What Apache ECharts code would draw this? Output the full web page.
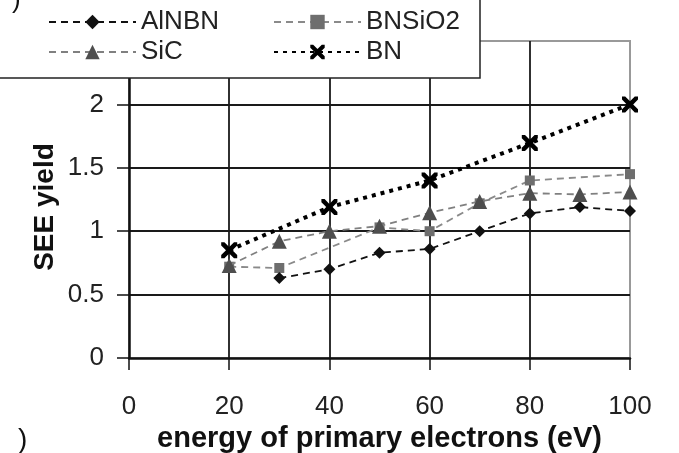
<!DOCTYPE html>
<html>
<head>
<meta charset="utf-8">
<script src="https://cdn.jsdelivr.net/npm/echarts@6/dist/echarts.min.js"></script>
<style>
html,body{margin:0;padding:0;background:#fff;}
#chart{width:679px;height:453px;}
</style>
</head>
<body>
<div id="chart"></div>
<script>
// Data
const xTicks = [0, 20, 40, 60, 80, 100];
const yTicks = [0, 0.5, 1, 1.5, 2, 2.5];

const alnbnX = [30, 40, 50, 60, 70, 80, 90, 100];
const alnbnY = [0.63, 0.70, 0.83, 0.86, 1.00, 1.14, 1.19, 1.16];

const bnsio2X = [20, 30, 50, 60, 70, 80, 100];
const bnsio2Y = [0.72, 0.71, 1.03, 1.00, 1.22, 1.40, 1.45];

const sicX = [20, 30, 40, 50, 60, 70, 80, 90, 100];
const sicY = [0.73, 0.92, 1.00, 1.04, 1.145, 1.235, 1.30, 1.29, 1.31];

const bnX = [20, 40, 60, 80, 100];
const bnY = [0.85, 1.19, 1.40, 1.695, 2.00];

const names = ['AlNBN', 'BNSiO2', 'SiC', 'BN'];
const xTitle = 'energy of primary electrons (eV)';
const yTitle = 'SEE yield';

function pairs(xs, ys) { return xs.map((x, i) => [x, ys[i]]); }

const FONT = '"Liberation Sans", Arial, sans-serif';
const xMark = 'path://M0,0 L4,0 L10,6 L16,0 L20,0 L20,4 L14,10 L20,16 L20,20 L16,20 L10,14 L4,20 L0,20 L0,16 L6,10 L0,4 Z';

const chart = echarts.init(document.getElementById('chart'), null, {renderer: 'canvas'});
chart.setOption({
  backgroundColor: '#fff',
  animation: false,
  grid: {left: 129, right: 49, top: 41, bottom: 95, outerBoundsMode: 'none', containLabel: false,
         show: true, borderColor: '#999', borderWidth: 2, backgroundColor: 'transparent'},
  xAxis: {
    type: 'value', min: xTicks[0], max: xTicks[xTicks.length - 1], interval: 20,
    name: xTitle, nameLocation: 'middle', nameGap: 62,
    nameTextStyle: {fontFamily: FONT, fontSize: 29, fontWeight: 'bold', color: '#111'},
    axisLine: {show: true, onZero: false, lineStyle: {color: '#111', width: 2.5}},
    axisTick: {show: true, length: 12, lineStyle: {color: '#111', width: 1.5}},
    axisLabel: {fontFamily: FONT, fontSize: 26, color: '#222', margin: 36, showMaxLabel: true},
    splitLine: {show: true, showMinLine: false, showMaxLine: false, lineStyle: {color: '#1a1a1a', width: 1.8}}
  },
  yAxis: {
    type: 'value', min: yTicks[0], max: yTicks[yTicks.length - 1], interval: 0.5,
    axisLine: {show: true, onZero: false, lineStyle: {color: '#111', width: 2.5}},
    axisTick: {show: true, length: 12, lineStyle: {color: '#111', width: 1.5}},
    axisLabel: {fontFamily: FONT, fontSize: 26, color: '#222', margin: 25},
    splitLine: {show: true, showMinLine: false, showMaxLine: false, lineStyle: {color: '#1a1a1a', width: 1.8}}
  },
  graphic: [
    {type: 'text', z: 5, x: 45, y: 207, rotation: Math.PI / 2,
     style: {text: yTitle, font: 'bold 28px ' + FONT, fill: '#111', align: 'center', verticalAlign: 'middle'}},
    {type: 'rect', z: 10, shape: {x: -5, y: -5, width: 485, height: 83}, style: {fill: '#fff', stroke: '#222', lineWidth: 1.5}},
    {type: 'text', z: 11, left: 12, top: -12, style: {text: ')', font: '26px ' + FONT, fill: '#111'}},
    {type: 'text', z: 11, left: 18, top: 426, style: {text: ')', font: '28px ' + FONT, fill: '#111'}}
  ],
  legend: [
    {data: [names[0], names[2]], orient: 'vertical', left: 48, top: 9, itemWidth: 87, itemHeight: 18, itemGap: 4, z: 20,
     textStyle: {fontFamily: FONT, fontSize: 26, color: '#222', lineHeight: 26}, padding: 0},
    {data: [names[1], names[3]], orient: 'vertical', left: 273, top: 9, itemWidth: 87, itemHeight: 18, itemGap: 4, z: 20,
     textStyle: {fontFamily: FONT, fontSize: 26, color: '#222', lineHeight: 26}, padding: 0}
  ],
  series: [
    {name: names[0], type: 'line', data: pairs(alnbnX, alnbnY), symbol: 'diamond', symbolSize: 12,
     itemStyle: {color: '#111'}, lineStyle: {color: '#111', width: 1.8, type: [7, 5]}, z: 5},
    {name: names[1], type: 'line', data: pairs(bnsio2X, bnsio2Y), symbol: 'rect', symbolSize: 10,
     itemStyle: {color: '#6e6e6e'}, lineStyle: {color: '#8a8a8a', width: 1.8, type: [7, 5]}, z: 4},
    {name: names[2], type: 'line', data: pairs(sicX, sicY), symbol: 'triangle', symbolSize: 15,
     itemStyle: {color: '#4e4e4e'}, lineStyle: {color: '#808080', width: 1.8, type: [7, 5]}, z: 6},
    {name: names[3], type: 'line', data: pairs(bnX, bnY), symbol: xMark, symbolSize: 16,
     itemStyle: {color: '#000'}, lineStyle: {color: '#000', width: 4, type: [4, 5]}, z: 7}
  ]
});
</script>
</body>
</html>
